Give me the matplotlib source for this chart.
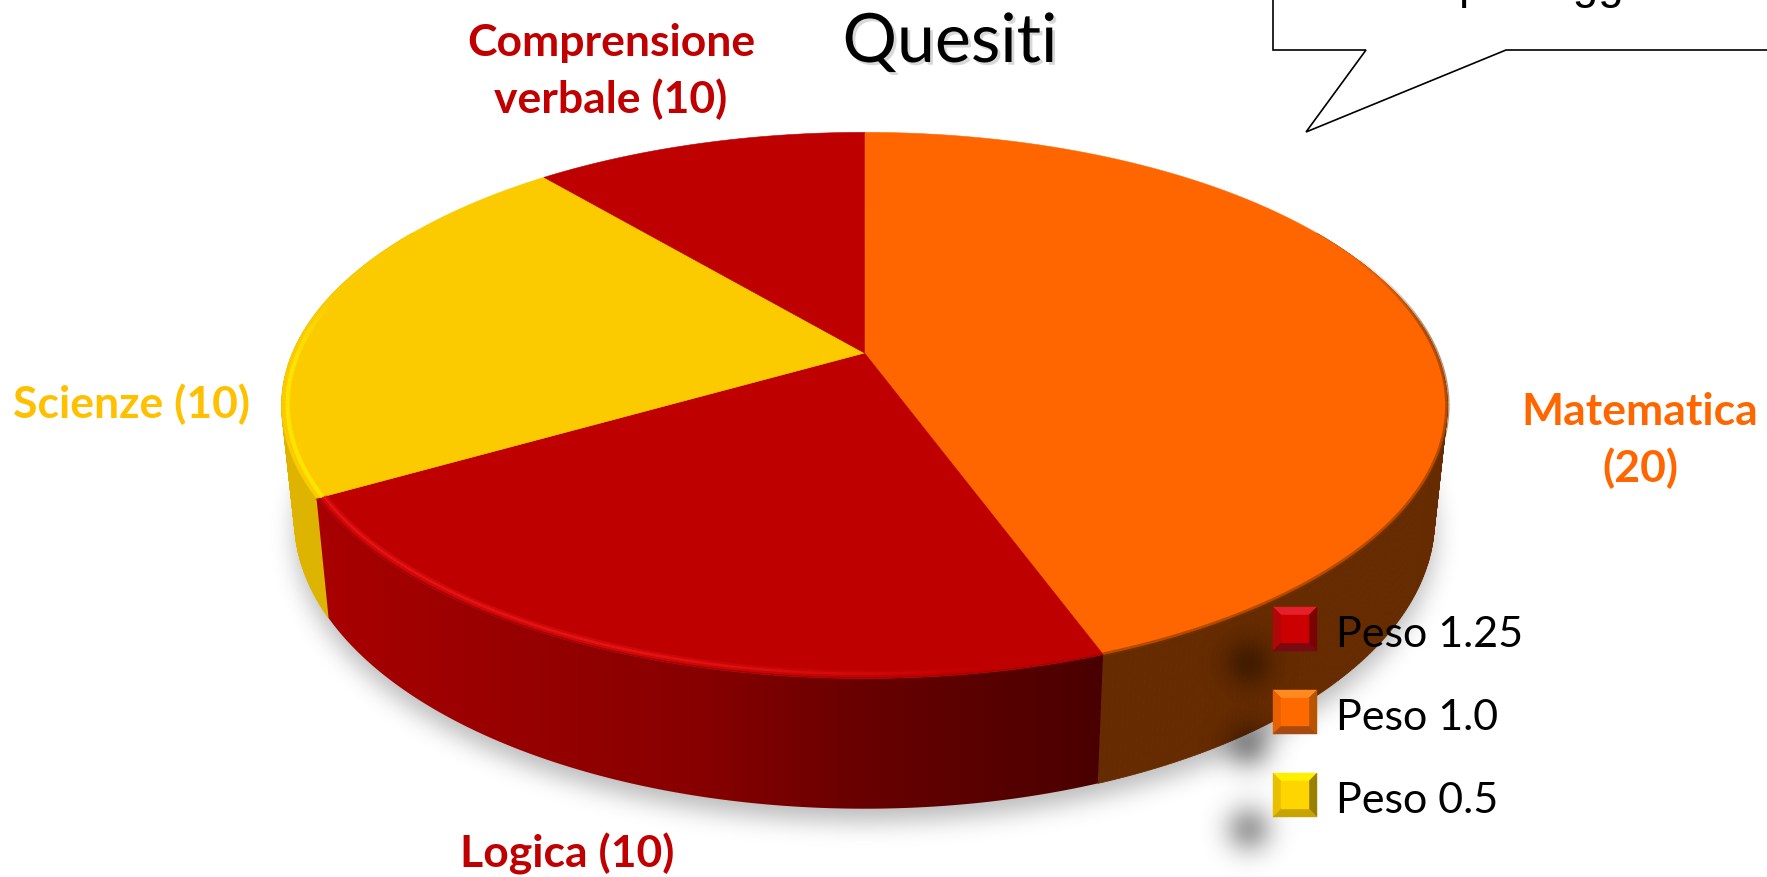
import numpy as np
import matplotlib
matplotlib.use("Agg")
import matplotlib.pyplot as plt
import matplotlib.patheffects as pe
from matplotlib.collections import LineCollection
from matplotlib.colors import to_rgb
from matplotlib.path import Path
from matplotlib.patches import Polygon

# --- Data ---
categories = ["Matematica", "Logica", "Scienze", "Comprensione verbale"]
slice_sizes = [40, 20, 20, 10]
top_colors = ["#FF6600", "#BE0000", "#FBCB00", "#BE0000"]
weights = ["Peso 1.25", "Peso 1.0", "Peso 0.5"]

# --- Configuration (all in reference pixels) ---
W, H_PX = 1767, 878
CX, CY = 864.5, 354
A, B, K = 572, 263, 0.192
DEPTH, SHRINK = 111, 0.022

plt.rcParams['font.family'] = ['Lato', 'DejaVu Sans']


def project(theta, r=1.0, z=0.0):
    """Clockwise degrees from 12 o'clock on the disc -> picture pixels."""
    t = np.radians(theta)
    x, y = r * np.sin(t), r * np.cos(t)
    w = 1 + K * y
    s = 1 - SHRINK * z
    return CX + A * s * x / w, CY + (DEPTH * z - B * s * y) / w


def blur(img, sigma):
    fy = np.fft.fftfreq(img.shape[0])[:, None]
    fx = np.fft.rfftfreq(img.shape[1])[None, :]
    g = np.exp(-2 * (np.pi * sigma) ** 2 * (fx ** 2 + fy ** 2))
    return np.fft.irfft2(np.fft.rfft2(img) * g, s=img.shape)


def rim_line(ax, thetas, alphas, color, lw, r=1.0):
    xs, ys = project(thetas, r=r)
    pts = np.column_stack([xs, ys])
    segs = np.stack([pts[:-1], pts[1:]], axis=1)
    rgb = to_rgb(color)
    cols = [(*rgb, a) for a in alphas[:-1]]
    ax.add_collection(LineCollection(segs, colors=cols, linewidths=lw, capstyle='butt', zorder=4))


def bevel_key(ax, x, y, size, inset, center, top, left, right, bottom):
    x2, y2 = x + size, y + size
    ix, iy, ix2, iy2 = x + inset, y + inset, x2 - inset, y2 - inset
    faces = [
        ([(x, y), (x2, y), (ix2, iy), (ix, iy)], top),
        ([(x, y), (ix, iy), (ix, iy2), (x, y2)], left),
        ([(x2, y), (x2, y2), (ix2, iy2), (ix2, iy)], right),
        ([(x, y2), (ix, iy2), (ix2, iy2), (x2, y2)], bottom),
        ([(ix, iy), (ix2, iy), (ix2, iy2), (ix, iy2)], center),
    ]
    for pts, col in faces:
        ax.add_patch(Polygon(pts, closed=True, fc=col, ec=col, lw=0.3, zorder=7))


fig = plt.figure(figsize=(W / 100, H_PX / 100), dpi=100, facecolor='white')
ax = fig.add_axes([0, 0, 1, 1])
ax.set_xlim(0, W)
ax.set_ylim(H_PX, 0)
ax.axis('off')

grid_x, grid_y = np.meshgrid(np.arange(W) + 0.5, np.arange(H_PX) + 0.5)
grid = np.column_stack([grid_x.ravel(), grid_y.ravel()])

# Soft shadow under the disc
th = np.linspace(0, 360, 361)
bx, by = project(th, z=1.0)
mask = Path(np.column_stack([bx, by + 13])).contains_points(grid).reshape(H_PX, W).astype(float)
shadow = blur(mask, 12) * 0.27
rgba = np.zeros((H_PX, W, 4))
rgba[..., 3] = np.clip(shadow, 0, 1)
ax.imshow(rgba, extent=(0, W, H_PX, 0), aspect='auto', zorder=1, interpolation='bilinear')

# Slice boundaries from the values
edges = np.concatenate([[0], np.cumsum(slice_sizes)]) / np.sum(slice_sizes) * 360
wall_flat = {0: "#662B00", 2: "#DEB400"}

# Side wall, back to front (flat colours for orange and yellow)
wall_angles = np.arange(60, 300, 0.5)
for a in sorted(wall_angles, key=lambda v: np.cos(np.radians(v + 0.25)), reverse=True):
    mid = a + 0.25
    if edges[1] <= mid < edges[2]:
        continue
    col = wall_flat[0] if mid < edges[1] else wall_flat[2]
    x0, y0 = project(a)
    x1, y1 = project(a + 0.5)
    x2, y2 = project(a + 0.5, z=1.0)
    x3, y3 = project(a, z=1.0)
    ax.add_patch(Polygon([(x0, y0), (x1, y1), (x2, y2), (x3, y3)], closed=True,
                         fc=col, ec=col, lw=0.6, zorder=2))

# Red wall: horizontal gradient clipped to its outline
red_x = [320, 500, 700, 860, 1100]
red_v = [0.66, 0.60, 0.53, 0.41, 0.29]
ramp_x = np.arange(W) + 0.5
ramp = np.zeros((1, W, 3))
ramp[0, :, 0] = np.interp(ramp_x, red_x, red_v)
t_wall = np.linspace(edges[1], edges[2], 200)
tx, ty = project(t_wall)
ux, uy = project(t_wall[::-1], z=1.0)
outline = Polygon(np.column_stack([np.r_[tx, ux], np.r_[ty, uy]]), closed=True,
                  transform=ax.transData, fc='none', ec='none')
ax.add_patch(outline)
im = ax.imshow(ramp, extent=(0, W, H_PX, 0), aspect='auto', zorder=2.1, interpolation='bilinear')
im.set_clip_path(outline)

# Top of the disc
for i, col in enumerate(top_colors):
    t = np.linspace(edges[i], edges[i + 1], 200)
    px, py = project(t)
    pts = np.column_stack([np.r_[CX, px], np.r_[CY, py]])
    ax.add_patch(Polygon(pts, closed=True, fc=col, ec=col, lw=0.4, zorder=3))

# Bevel highlights along the rim
t_o = np.linspace(68, edges[1], 120)
rim_line(ax, t_o, np.clip((t_o - 68) / 30, 0.1, 0.55), "#7A3400", 3.2)
t_r = np.linspace(edges[1], edges[2], 160)
rim_line(ax, t_r, np.clip((t_r - 168) / 30, 0, 1) * 0.3, "#F02020", 5.0, r=0.988)
rim_line(ax, t_r, np.clip((t_r - 168) / 30, 0, 1) * 0.7, "#F01818", 1.8, r=0.988)
rim_line(ax, t_r, np.full(160, 0.3), "#7A0000", 2.0)
t_y = np.linspace(edges[2], 285, 60)
rim_line(ax, t_y, np.clip((282 - t_y) / 14, 0, 1) * 0.9, "#FFE800", 3.0, r=0.99)

# Legend keys and their stray soft shadows
key_x, key_size = 1273, 44
key_y = [608, 691, 774]
key_styles = [
    ("#CC0000", "#E6202A", "#B00808", "#7A0404", "#7A0A12"),
    ("#FF6A00", "#FF8A20", "#E86000", "#B85400", "#A84A10"),
    ("#FFD500", "#FFF000", "#E8C000", "#9A8000", "#C8A400"),
]
blobs = np.zeros((H_PX, W))
for ky in key_y:
    cy_key = ky + 22
    blobs += 0.36 * np.exp(-((grid_x - 1248) ** 2 + (grid_y - (cy_key + 34)) ** 2) / (2 * 17.0 ** 2))
rgba2 = np.zeros((H_PX, W, 4))
rgba2[..., 3] = np.clip(blobs, 0, 1)
ax.imshow(rgba2, extent=(0, W, H_PX, 0), aspect='auto', zorder=5, interpolation='bilinear')

for ky, label, style in zip(key_y, weights, key_styles):
    bevel_key(ax, key_x, ky, key_size, 8, *style)
    ax.text(1336, ky + 39, label, fontsize=31, color='black', va='baseline', ha='left', zorder=8)

# Category labels
LABEL = dict(fontsize=32, fontweight='bold', va='baseline', ha='center', zorder=8)
ax.text(611, 56, "Comprensione", color="#C00000", **LABEL)
ax.text(611, 113, "verbale (10)", color="#C00000", **LABEL)
ax.text(1640, 425, "Matematica", color="#FF6600", **LABEL)
ax.text(1640, 482, "(20)", color="#FF6600", **LABEL)
ax.text(131, 418, "Scienze (10)", color="#FFC000", **LABEL)
ax.text(567, 868, "Logica (10)", color="#C00000", **LABEL)

# Title
ax.text(950, 63, "Quesiti", fontsize=49, color='black', va='baseline', ha='center', zorder=8,
        path_effects=[pe.withSimplePatchShadow(offset=(2, -2), shadow_rgbFace='#909090', alpha=0.35)])

# Speech bubble, cut by the top and right of the picture
bubble_x = [1273, 1273, 1366, 1306, 1506, 1790]
bubble_y = [-20, 51, 51, 133, 51, 51]
ax.plot(bubble_x, bubble_y, color='black', lw=1.2, solid_joinstyle='miter', zorder=8)
ax.text(1458, -2, "punteggio", fontsize=33, family='Liberation Sans', color='black',
        va='baseline', ha='left', zorder=8, clip_on=False)

ax.set_xlim(0, W)
ax.set_ylim(H_PX, 0)
fig.savefig("out.png", dpi=100, facecolor='white')
